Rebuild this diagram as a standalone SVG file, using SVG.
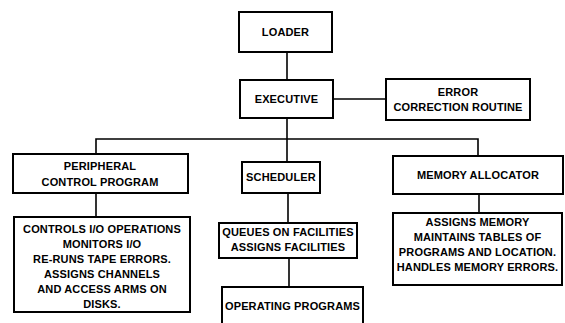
<svg xmlns="http://www.w3.org/2000/svg" width="565" height="323" viewBox="0 0 565 323">
<style>
.box{fill:#fff;stroke:#000;stroke-width:2}
.ln{fill:none;stroke:#000;stroke-width:1.6}
text{font-family:"Liberation Sans",Arial,sans-serif;font-weight:bold;font-size:11px;letter-spacing:0.15px;text-anchor:middle;fill:#000}
</style>
<rect width="565" height="323" fill="#fff"/>
<g id="connectors">
<path class="ln" d="M287,52 V80"/>
<path class="ln" d="M333,99 H386"/>
<path class="ln" d="M287,118 V162"/>
<path class="ln" d="M96,154 V139 H478 V156"/>
<path class="ln" d="M96,193 V217"/>
<path class="ln" d="M288,193 V223"/>
<path class="ln" d="M289,258 V287"/>
<path class="ln" d="M479,194 V213"/>
</g>
<g id="loader"><rect class="box" x="239" y="12" width="93" height="40"/><text x="285.5" y="36">LOADER</text></g>
<g id="executive"><rect class="box" x="240" y="80" width="93" height="38"/><text x="286.5" y="103">EXECUTIVE</text></g>
<g id="error"><rect class="box" x="386" y="79" width="144" height="41"/><text x="458" y="96">ERROR</text><text x="458" y="111">CORRECTION ROUTINE</text></g>
<g id="peripheral"><rect class="box" x="13" y="154" width="175" height="39"/><text x="100" y="170">PERIPHERAL</text><text x="100" y="186">CONTROL PROGRAM</text></g>
<g id="scheduler"><rect class="box" x="242" y="162" width="78" height="31"/><text x="281" y="181">SCHEDULER</text></g>
<g id="memory"><rect class="box" x="393" y="156" width="170" height="38"/><text x="478" y="179">MEMORY ALLOCATOR</text></g>
<g id="controls"><rect class="box" x="14" y="217" width="176" height="95"/>
<text x="102" y="233">CONTROLS I/O OPERATIONS</text>
<text x="102" y="248">MONITORS I/O</text>
<text x="102" y="263">RE-RUNS TAPE ERRORS.</text>
<text x="102" y="278">ASSIGNS CHANNELS</text>
<text x="102" y="293">AND ACCESS ARMS ON</text>
<text x="102" y="308">DISKS.</text></g>
<g id="queues"><rect class="box" x="219" y="223" width="138" height="35"/>
<text x="288" y="236">QUEUES ON FACILITIES</text>
<text x="288" y="251">ASSIGNS FACILITIES</text></g>
<g id="operating"><rect class="box" x="222" y="287" width="141" height="40"/><text x="292.5" y="310">OPERATING PROGRAMS</text></g>
<g id="memdetail"><rect class="box" x="393" y="213" width="169" height="72"/>
<text x="477.5" y="226">ASSIGNS MEMORY</text>
<text x="477.5" y="241">MAINTAINS TABLES OF</text>
<text x="477.5" y="256">PROGRAMS AND LOCATION.</text>
<text x="477.5" y="271">HANDLES MEMORY ERRORS.</text></g>
</svg>
